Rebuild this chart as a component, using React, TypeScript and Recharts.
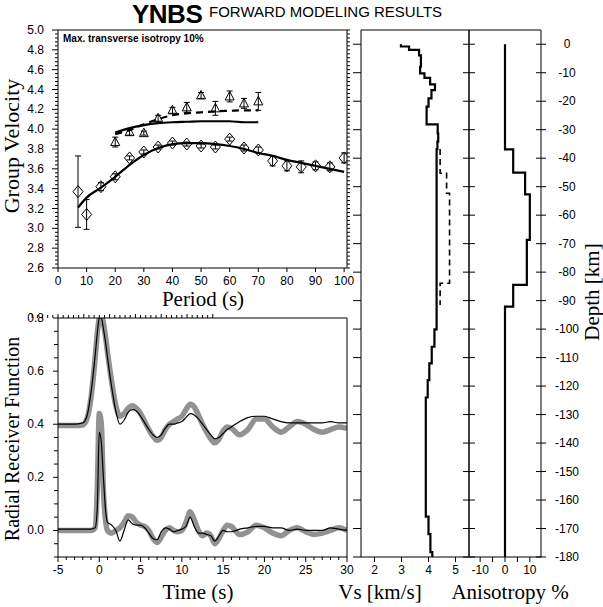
import React from "react";
import { ComposedChart, ErrorBar, Line, Scatter, XAxis, YAxis } from "recharts";

const SANS = "'Liberation Sans', Arial, Helvetica, sans-serif";
const SERIF = "'Liberation Serif', 'Times New Roman', Times, serif";

// ---- group velocity (Rayleigh = diamonds, Love = triangles)
const rayPeriod = [7, 10, 15, 20, 25, 30, 35, 40, 45, 50, 55, 60, 65, 70, 75, 80, 85, 90, 95, 100];
const rayVel = [3.37, 3.14, 3.42, 3.52, 3.71, 3.77, 3.82, 3.86, 3.85, 3.83, 3.82, 3.9, 3.81, 3.79, 3.68, 3.63, 3.62, 3.63, 3.62, 3.71];
const rayErr = [0.36, 0.15, 0.04, 0.03, 0.02, 0.02, 0.02, 0.02, 0.02, 0.02, 0.02, 0.02, 0.03, 0.03, 0.05, 0.05, 0.06, 0.04, 0.04, 0.05];
const lovePeriod = [20, 25, 30, 35, 40, 45, 50, 55, 60, 65, 70];
const loveVel = [3.87, 3.97, 3.96, 4.11, 4.19, 4.22, 4.34, 4.21, 4.33, 4.26, 4.28];
const loveErr = [0.05, 0.03, 0.02, 0.03, 0.03, 0.05, 0.03, 0.07, 0.055, 0.05, 0.09];

const rayFitPeriod = [7, 10, 15, 20, 25, 30, 35, 40, 45, 50, 55, 60, 65, 70, 75, 80, 85, 90, 95, 100];
const rayFitVel = [3.21, 3.31, 3.41, 3.52, 3.64, 3.74, 3.81, 3.85, 3.86, 3.86, 3.85, 3.83, 3.8, 3.76, 3.73, 3.69, 3.66, 3.63, 3.6, 3.57];
const loveFitPeriod = [20, 25, 30, 35, 40, 45, 50, 55, 60, 65, 70];
const loveFitVel = [3.965, 4.01, 4.04, 4.06, 4.07, 4.075, 4.08, 4.08, 4.08, 4.07, 4.07];
const loveAnisoVel = [3.95, 3.99, 4.05, 4.1, 4.14, 4.16, 4.17, 4.18, 4.185, 4.19, 4.19];

// ---- receiver functions
const rfTime = [-5, -4, -3, -2, -1.5, -1, -0.5, -0.25, 0, 0.25, 0.5, 0.75, 1, 1.5, 2, 2.5, 3, 3.5, 4, 4.5, 5, 5.5, 6, 6.5, 7, 7.5, 8, 8.5, 9, 9.5, 10, 10.5, 11, 11.5, 12, 12.5, 13, 13.5, 14, 14.5, 15, 15.5, 16, 17, 18, 19, 20, 21, 22, 23, 24, 25, 26, 27, 28, 29, 30];
const rfObsUpper = [0.395, 0.395, 0.395, 0.397, 0.42, 0.5, 0.65, 0.74, 0.8, 0.81, 0.78, 0.73, 0.67, 0.56, 0.47, 0.43, 0.44, 0.46, 0.47, 0.46, 0.44, 0.41, 0.38, 0.355, 0.34, 0.35, 0.38, 0.4, 0.41, 0.42, 0.43, 0.455, 0.475, 0.465, 0.435, 0.4, 0.37, 0.345, 0.33, 0.345, 0.375, 0.39, 0.385, 0.36, 0.38, 0.42, 0.42, 0.39, 0.37, 0.39, 0.41, 0.4, 0.38, 0.37, 0.38, 0.39, 0.385];
const rfSynUpper = [0.4, 0.4, 0.4, 0.405, 0.43, 0.52, 0.66, 0.74, 0.8, 0.8, 0.76, 0.71, 0.65, 0.54, 0.45, 0.4, 0.415, 0.445, 0.455, 0.45, 0.43, 0.405, 0.38, 0.36, 0.35, 0.36, 0.385, 0.4, 0.4, 0.405, 0.41, 0.425, 0.44, 0.435, 0.42, 0.4, 0.38, 0.36, 0.345, 0.35, 0.365, 0.38, 0.39, 0.41, 0.425, 0.43, 0.43, 0.42, 0.41, 0.405, 0.405, 0.405, 0.405, 0.405, 0.41, 0.405, 0.405];
const rfObsLower = [0, 0, 0, 0, 0, 0, 0.01, 0.15, 0.44, 0.4, 0.15, 0.04, 0, -0.01, 0, 0.01, 0.03, 0.055, 0.05, 0.03, 0.02, 0.015, 0, -0.03, -0.045, -0.025, 0, 0.01, 0, -0.005, 0, 0.03, 0.07, 0.04, 0, -0.02, -0.01, -0.02, -0.05, -0.03, 0, 0.02, 0.015, -0.015, -0.005, 0.02, 0.01, -0.01, -0.02, 0, 0.01, -0.005, -0.015, -0.01, 0, 0.01, 0];
const rfSynLower = [0.005, 0.005, 0.005, 0.005, 0.005, 0.005, 0.01, 0.08, 0.37, 0.33, 0.2, 0.08, 0.03, 0.02, 0, -0.04, 0, 0.04, 0.025, 0.02, 0.02, 0.01, -0.01, -0.03, -0.035, -0.005, 0.01, 0.005, -0.005, 0, 0.005, 0.015, 0.05, 0.015, -0.01, -0.01, -0.015, -0.02, -0.04, -0.02, 0, -0.005, -0.005, 0.005, 0.01, 0.015, 0.015, 0.01, 0.01, 0, 0.005, 0, 0, 0, 0.01, 0.005, 0];

// ---- shear velocity model (layer tops in km, bottom at -180)
const vsTop = [0, -0.8, -2.0, -3.9, -7.9, -10.2, -11.8, -14.1, -16.1, -19.0, -21.9, -28.1, -31.3, -34.2, -36.8, -100.1, -106.2, -112, -117.9, -124, -165.8, -172, -178.3];
const vsVal = [2.98, 3.28, 3.65, 3.72, 3.69, 3.85, 4.06, 4.24, 4.11, 4.0, 3.93, 4.34, 4.36, 4.33, 4.3, 4.22, 4.12, 4.03, 3.97, 3.9, 4.0, 4.07, 4.14];
const vshTop = [-36.8, -45.3, -52.3, -83.9];
const vshVal = [4.43, 4.67, 4.78, 4.43];
const vshBase = -91.5;
const aniTop = [0, -36.9, -45.1, -52.7, -68.7, -84.5, -92.1];
const aniVal = [0, 3.3, 8.1, 10, 8.8, 3.3, 0];
const modelBase = -180;

// ---- ticks
const range = (a: number, b: number, s: number) => {
  const out: number[] = [];
  for (let v = a; v <= b + s / 1000; v += s) out.push(Math.round(v * 1000) / 1000);
  return out;
};
const periodTicks = [0, 10, 20, 30, 40, 50, 60, 70, 80, 90, 100];
const gvMajor = [2.6, 2.8, 3.0, 3.2, 3.4, 3.6, 3.8, 4.0, 4.2, 4.4, 4.6, 4.8, 5.0];
const gvMinor = range(2.6, 5.0, 0.04);
const timeMajor = [-5, 0, 5, 10, 15, 20, 25, 30];
const timeMinor = range(-5, 30, 1);
const rfMajor = [0, 0.2, 0.4, 0.6, 0.8];
const rfMinor = range(-0.1, 0.8, 0.05);
const vsTicks = [2, 3, 4, 5];
const aniTicks = [-10, -5, 0, 5, 10];
const aniLabels = [-10, 0, 10];
const depthTicks = range(-180, 0, 10);

const steps = (tops: number[], vals: number[], base: number, key: string) => {
  const pts: Record<string, number>[] = [];
  tops.forEach((t, i) => {
    const b = i < tops.length - 1 ? tops[i + 1] : base;
    pts.push({ [key]: vals[i], d: t }, { [key]: vals[i], d: b });
  });
  return pts;
};

const rayData = rayPeriod.map((p, i) => ({ p, v: rayVel[i], e: rayErr[i] }));
const loveData = lovePeriod.map((p, i) => ({ p, v: loveVel[i], e: loveErr[i] }));
const rayFit = rayFitPeriod.map((p, i) => ({ p, v: rayFitVel[i] }));
const loveFit = loveFitPeriod.map((p, i) => ({ p, v: loveFitVel[i] }));
const loveAniso = loveFitPeriod.map((p, i) => ({ p, v: loveAnisoVel[i] }));
const rfData = rfTime.map((t, i) => ({ t, oU: rfObsUpper[i], sU: rfSynUpper[i], oL: rfObsLower[i], sL: rfSynLower[i] }));
const vsLine = steps(vsTop, vsVal, modelBase, "x");
const vshLine = steps(vshTop, vshVal, vshBase, "x");
const aniLine = steps(aniTop, aniVal, modelBase, "x");

type Side = "top" | "bottom" | "left" | "right";
interface TickSpec {
  side: Side;
  majors: number[];
  majorOut: number;
  minorOut?: number;
  inner?: number;
  labels?: number[];
  gap?: number;
  anchor?: "start" | "middle" | "end";
  fmt?: (v: number) => string;
}
const near = (a: number, b: number) => Math.abs(a - b) < 1e-6;

const tickOf = (s: TickSpec) => (props: any) => {
  const { x, y, payload } = props;
  const v: number = payload.value;
  const major = s.majors.some((m) => near(m, v));
  const out = major ? s.majorOut : s.minorOut ?? 0;
  const inn = s.inner ?? 0;
  let l = [x, y, x, y];
  let tx = x;
  let ty = y;
  let anchor = s.anchor ?? "middle";
  if (s.side === "bottom") {
    l = [x, y - inn, x, y + out];
    ty = y + (s.gap ?? 20);
  } else if (s.side === "top") {
    l = [x, y + inn, x, y - out];
    ty = y - (s.gap ?? 8);
  } else if (s.side === "left") {
    l = [x + inn, y, x - out, y];
    tx = x - (s.gap ?? 14);
    ty = y + 4;
    anchor = s.anchor ?? "end";
  } else {
    l = [x - inn, y, x + out, y];
    tx = x + (s.gap ?? 26);
    ty = y + 4;
  }
  const show = s.labels ? s.labels.some((m) => near(m, v)) : false;
  return (
    <g>
      <line x1={l[0]} y1={l[1]} x2={l[2]} y2={l[3]} stroke="#000" strokeWidth={1} />
      {show ? (
        <text x={tx} y={ty} textAnchor={anchor} fontSize={12} fontFamily={SANS} fill="#000">
          {(s.fmt ?? ((n: number) => String(n)))(v)}
        </text>
      ) : null}
    </g>
  );
};

// axes need a non-zero size to be drawn; margins are reduced by that 1px
const AXIS = { stroke: "#000", strokeWidth: 1 };
const axisBase = { tickSize: 0, tickMargin: 0, tickLine: false, axisLine: AXIS, interval: 0 as const, allowDataOverflow: true };
const fix1 = (v: number) => v.toFixed(1);

const Diamond = (props: any) => {
  const { cx, cy } = props;
  return <path d={`M${cx},${cy - 6}L${cx + 5},${cy}L${cx},${cy + 6}L${cx - 5},${cy}Z`} fill="none" stroke="#000" strokeWidth={1} />;
};
const Triangle = (props: any) => {
  const { cx, cy } = props;
  return <path d={`M${cx},${cy - 5}L${cx + 4.5},${cy + 3.5}L${cx - 4.5},${cy + 3.5}Z`} fill="none" stroke="#000" strokeWidth={1} />;
};

const box = (left: number, top: number): React.CSSProperties => ({ position: "absolute", left, top });

export default function App() {
  return (
    <div style={{ position: "absolute", left: 0, top: 0, width: 603, height: 607, background: "#fff", overflow: "hidden" }}>
      {/* group velocity */}
      <div style={box(0, 0)}>
        <ComposedChart width={358} height={300} margin={{ top: 29, right: 10, bottom: 31, left: 57 }}>
          <XAxis xAxisId="b" dataKey="p" type="number" domain={[0, 101]} ticks={periodTicks} height={1} {...axisBase}
            tick={tickOf({ side: "bottom", majors: periodTicks, majorOut: 4, labels: periodTicks, gap: 17 })} />
          <XAxis xAxisId="t" orientation="top" type="number" domain={[0, 101]} ticks={periodTicks} height={1} {...axisBase}
            tick={tickOf({ side: "top", majors: periodTicks, majorOut: 5 })} />
          <YAxis yAxisId="l" dataKey="v" type="number" domain={[2.6, 5.0]} ticks={gvMinor} width={1} {...axisBase}
            tick={tickOf({ side: "left", majors: gvMajor, majorOut: 6, minorOut: 3, labels: gvMajor, gap: 14, fmt: fix1 })} />
          <YAxis yAxisId="r" orientation="right" type="number" domain={[2.6, 5.0]} ticks={gvMinor} width={1} {...axisBase}
            tick={tickOf({ side: "right", majors: gvMajor, majorOut: 3, minorOut: 3 })} />
          <Line xAxisId="b" yAxisId="l" data={rayFit} dataKey="v" type="monotone" stroke="#000" strokeWidth={2.2} dot={false} isAnimationActive={false} />
          <Line xAxisId="b" yAxisId="l" data={loveFit} dataKey="v" type="monotone" stroke="#000" strokeWidth={2.2} dot={false} isAnimationActive={false} />
          <Line xAxisId="b" yAxisId="l" data={loveAniso} dataKey="v" type="monotone" stroke="#000" strokeWidth={2.2} strokeDasharray="7 5" dot={false} isAnimationActive={false} />
          <Scatter xAxisId="b" yAxisId="l" data={rayData} shape={Diamond} isAnimationActive={false}>
            <ErrorBar dataKey="e" direction="y" width={3} stroke="#000" strokeWidth={1} isAnimationActive={false} />
          </Scatter>
          <Scatter xAxisId="b" yAxisId="l" data={loveData} shape={Triangle} isAnimationActive={false}>
            <ErrorBar dataKey="e" direction="y" width={3} stroke="#000" strokeWidth={1} isAnimationActive={false} />
          </Scatter>
        </ComposedChart>
      </div>

      {/* receiver functions */}
      <div style={box(0, 305)}>
        <ComposedChart width={358} height={280} data={rfData} margin={{ top: 12, right: 10, bottom: 27, left: 57 }}>
          <XAxis xAxisId="b" dataKey="t" type="number" domain={[-5, 30]} ticks={timeMinor} height={1} {...axisBase}
            tick={tickOf({ side: "bottom", majors: timeMajor, majorOut: 5, minorOut: 3, labels: timeMajor, gap: 17 })} />
          <XAxis xAxisId="t" orientation="top" type="number" domain={[-5, 30]} ticks={timeMinor} height={1} {...axisBase}
            tick={tickOf({ side: "top", majors: timeMajor, majorOut: 4, minorOut: 3 })} />
          <YAxis yAxisId="l" type="number" domain={[-0.1, 0.8]} ticks={rfMinor} width={1} {...axisBase}
            tick={tickOf({ side: "left", majors: rfMajor, majorOut: 5, minorOut: 4, labels: rfMajor, gap: 14, fmt: fix1 })} />
          <YAxis yAxisId="r" orientation="right" type="number" domain={[-0.1, 0.8]} ticks={rfMajor} width={1} {...axisBase}
            tick={tickOf({ side: "right", majors: [], majorOut: 0 })} />
          <Line xAxisId="b" yAxisId="l" dataKey="oU" type="monotone" stroke="#929292" strokeWidth={5.5} dot={false} isAnimationActive={false} />
          <Line xAxisId="b" yAxisId="l" dataKey="oL" type="monotone" stroke="#929292" strokeWidth={5.5} dot={false} isAnimationActive={false} />
          <Line xAxisId="b" yAxisId="l" dataKey="sU" type="monotone" stroke="#000" strokeWidth={1.2} dot={false} isAnimationActive={false} />
          <Line xAxisId="b" yAxisId="l" dataKey="sL" type="monotone" stroke="#000" strokeWidth={1.2} dot={false} isAnimationActive={false} />
        </ComposedChart>
      </div>

      {/* Vs model */}
      <div style={box(345, 15)}>
        <ComposedChart width={130} height={575} margin={{ top: 14, right: 5, bottom: 32, left: 15 }}>
          <XAxis xAxisId="b" dataKey="x" type="number" domain={[1.5, 5.5]} ticks={vsTicks} height={1} {...axisBase}
            tick={tickOf({ side: "bottom", majors: vsTicks, majorOut: 5, labels: vsTicks, gap: 17 })} />
          <XAxis xAxisId="t" orientation="top" type="number" domain={[1.5, 5.5]} ticks={vsTicks} height={1} {...axisBase}
            tick={tickOf({ side: "top", majors: vsTicks, majorOut: 5 })} />
          <YAxis yAxisId="l" type="number" domain={[-180, 5]} ticks={depthTicks} width={1} {...axisBase}
            tick={tickOf({ side: "left", majors: depthTicks, majorOut: 8 })} />
          <YAxis yAxisId="r" orientation="right" type="number" domain={[-180, 5]} ticks={depthTicks} width={1} {...axisBase}
            tick={tickOf({ side: "right", majors: depthTicks, majorOut: 6, inner: 6 })} />
          <Line xAxisId="b" yAxisId="l" data={vshLine} dataKey="d" type="linear" stroke="#000" strokeWidth={1.6} strokeDasharray="6 4" dot={false} isAnimationActive={false} />
          <Line xAxisId="b" yAxisId="l" data={vsLine} dataKey="d" type="linear" stroke="#000" strokeWidth={2.2} dot={false} isAnimationActive={false} />
        </ComposedChart>
      </div>

      {/* anisotropy model */}
      <div style={box(462, 15)}>
        <ComposedChart width={141} height={575} margin={{ top: 14, right: 61, bottom: 32, left: 6 }}>
          <XAxis xAxisId="b" dataKey="x" type="number" domain={[-14.5, 14.5]} ticks={aniTicks} height={1} {...axisBase}
            tick={tickOf({ side: "bottom", majors: aniTicks, majorOut: 5, labels: aniLabels, gap: 17 })} />
          <XAxis xAxisId="t" orientation="top" type="number" domain={[-14.5, 14.5]} ticks={aniTicks} height={1} {...axisBase}
            tick={tickOf({ side: "top", majors: aniTicks, majorOut: 5 })} />
          <YAxis yAxisId="l" type="number" domain={[-180, 5]} ticks={depthTicks} width={1} {...axisBase}
            tick={tickOf({ side: "left", majors: [], majorOut: 0 })} />
          <YAxis yAxisId="r" orientation="right" type="number" domain={[-180, 5]} ticks={depthTicks} width={1} {...axisBase}
            tick={tickOf({ side: "right", majors: depthTicks, majorOut: 5, inner: 5, labels: depthTicks, gap: 26, anchor: "middle" })} />
          <Line xAxisId="b" yAxisId="l" data={aniLine} dataKey="d" type="linear" stroke="#000" strokeWidth={2.2} dot={false} isAnimationActive={false} />
        </ComposedChart>
      </div>

      {/* titles */}
      <svg width={603} height={607} style={{ position: "absolute", left: 0, top: 0, pointerEvents: "none" }}>
        <text x={132} y={23} fontFamily={SANS} fontSize={26} fontWeight="bold" letterSpacing={-0.5} fill="#000">YNBS</text>
        <text x={209} y={17} fontFamily={SANS} fontSize={15} fill="#000">FORWARD MODELING RESULTS</text>
        <text x={63} y={42} fontFamily={SANS} fontSize={10} fontWeight="bold" fill="#000">Max. transverse isotropy 10%</text>
        <text x={19} y={146} transform="rotate(-90 19 146)" textAnchor="middle" fontFamily={SERIF} fontSize={22} fill="#000">Group Velocity</text>
        <text x={203} y={306} textAnchor="middle" fontFamily={SERIF} fontSize={21} fill="#000">Period (s)</text>
        <text x={19} y={439} transform="rotate(-90 19 439)" textAnchor="middle" fontFamily={SERIF} fontSize={20} fill="#000">Radial Receiver Function</text>
        <text x={198} y={599} textAnchor="middle" fontFamily={SERIF} fontSize={21} fill="#000">Time (s)</text>
        <text x={380} y={599} textAnchor="middle" fontFamily={SERIF} fontSize={21} fill="#000">Vs [km/s]</text>
        <text x={510} y={599} textAnchor="middle" fontFamily={SERIF} fontSize={21} fill="#000">Anisotropy %</text>
        <text x={599} y={292} transform="rotate(-90 599 292)" textAnchor="middle" fontFamily={SERIF} fontSize={21} fill="#000">Depth [km]</text>
      </svg>
    </div>
  );
}
